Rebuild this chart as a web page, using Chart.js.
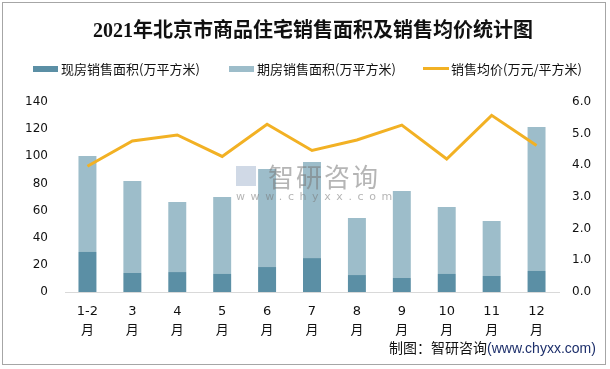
<!DOCTYPE html>
<html>
<head>
<meta charset="utf-8">
<script src="https://cdn.jsdelivr.net/npm/chart.js@4/dist/chart.umd.min.js"></script>
<style>
  html, body { margin: 0; padding: 0; background: #fff; }
  #wrap { position: relative; width: 610px; height: 369px; overflow: hidden; font-family: "Noto Sans CJK SC", sans-serif; }
  #frame { position: absolute; left: 2px; top: 2px; width: 602px; height: 361px; border: 1px solid #a6a6a6; pointer-events: none; }
  #title { position: absolute; left: 0; top: 14px; width: 626px; text-align: center; font: bold 20px "Liberation Serif", "Noto Sans CJK SC", serif; color: #111; white-space: nowrap; }
  .lg { position: absolute; top: 60px; font-size: 13px; line-height: 18px; color: #111; white-space: nowrap; }
  .sw { position: absolute; }
  #source { position: absolute; left: 389px; top: 337px; font-size: 14px; color: #111; white-space: nowrap; }
  #source span { color: #1d2f6b; font-family: "Liberation Sans", sans-serif; }
  #wm { position: absolute; left: 236px; top: 160px; color: rgba(120,120,120,0.55); pointer-events: none; }
  #wm .big { font-size: 26px; letter-spacing: 2px; margin-left: 32px; line-height: 32px; }
  #wm .small { font: 11px "DejaVu Sans", sans-serif; letter-spacing: 5.6px; margin-top: -2px; }
  #wm .logo { position: absolute; left: 0; top: 6px; width: 20px; height: 20px; background: rgba(150,170,200,0.45); }
  canvas { position: absolute; left: 0; top: 0; }
</style>
</head>
<body>
<div id="wrap">
  <canvas id="salesChart" width="610" height="369"></canvas>
  <div id="title">2021年北京市商品住宅销售面积及销售均价统计图</div>
  <div class="sw" style="left:33px;top:66px;width:25px;height:6px;background:#5b8fa5"></div>
  <div class="lg" style="left:61px">现房销售面积(万平方米)</div>
  <div class="sw" style="left:229px;top:66px;width:25px;height:6px;background:#9dbdca"></div>
  <div class="lg" style="left:257px">期房销售面积(万平方米)</div>
  <div class="sw" style="left:423px;top:67px;width:26px;height:3px;background:#f2b124"></div>
  <div class="lg" style="left:451px">销售均价(万元/平方米)</div>
  <div id="wm"><div class="logo"></div><div class="big">智研咨询</div><div class="small">www.chyxx.com</div></div>
  <div id="source">制图：智研咨询<span>(www.chyxx.com)</span></div>
  <div id="frame"></div>
</div>
<script>
// ============================================
// DATA
// ============================================
const months = ['1-2', '3', '4', '5', '6', '7', '8', '9', '10', '11', '12'];
const existingArea = [29.5, 14.0, 14.7, 13.3, 18.4, 25.0, 12.5, 10.3, 13.3, 11.8, 15.5];
const presaleArea = [70.7, 67.8, 51.6, 56.7, 72.2, 70.8, 42.0, 64.1, 49.3, 40.5, 106.1];
const avgPrice = [3.97, 4.77, 4.96, 4.28, 5.30, 4.47, 4.80, 5.27, 4.20, 5.58, 4.63];
const leftTicks = [0, 20, 40, 60, 80, 100, 120, 140];
const rightTicks = [0, 1, 2, 3, 4, 5, 6];

const tickFont = { family: '"DejaVu Sans", "Noto Sans CJK SC", sans-serif', size: 12 };

// ============================================
// CHART
// ============================================
const ctx = document.getElementById('salesChart').getContext('2d');

new Chart(ctx, {
  type: 'bar',
  data: {
    labels: months.map(m => [m, '月']),
    datasets: [
      {
        label: '现房销售面积(万平方米)',
        data: existingArea,
        backgroundColor: '#5b8fa5',
        stack: 'area',
        yAxisID: 'y',
        order: 1,
        barPercentage: 0.4,
        categoryPercentage: 1
      },
      {
        label: '期房销售面积(万平方米)',
        data: presaleArea,
        backgroundColor: '#9dbdca',
        stack: 'area',
        yAxisID: 'y',
        order: 1,
        barPercentage: 0.4,
        categoryPercentage: 1
      },
      {
        type: 'line',
        label: '销售均价(万元/平方米)',
        data: avgPrice,
        borderColor: '#f2b124',
        backgroundColor: '#f2b124',
        borderWidth: 3,
        pointRadius: 0,
        tension: 0,
        yAxisID: 'y1',
        stack: 'price',
        order: 0
      }
    ]
  },
  options: {
    responsive: false,
    animation: false,
    layout: { padding: { top: 102, left: 0, right: 0, bottom: 0 } },
    plugins: {
      legend: { display: false },
      tooltip: { enabled: false }
    },
    scales: {
      x: {
        stacked: true,
        grid: { display: false, drawTicks: false },
        border: { color: '#d9d9d9', width: 1 },
        ticks: { color: '#111', font: { ...tickFont, size: 13, lineHeight: 1.45 }, padding: 10, maxRotation: 0 },
        afterFit: scale => { scale.height = 77; }
      },
      y: {
        stacked: true,
        min: leftTicks[0],
        max: leftTicks[leftTicks.length - 1],
        grid: { display: false, drawTicks: false },
        border: { display: false },
        ticks: { stepSize: 20, color: '#111', font: tickFont, padding: 17 },
        afterFit: scale => { scale.width = 65; }
      },
      y1: {
        position: 'right',
        min: rightTicks[0],
        max: rightTicks[rightTicks.length - 1],
        grid: { display: false, drawTicks: false },
        border: { display: false },
        ticks: { stepSize: 1, color: '#111', font: tickFont, padding: 13, callback: v => v.toFixed(1) },
        afterFit: scale => { scale.width = 51; }
      }
    }
  }
});
</script>
</body>
</html>
